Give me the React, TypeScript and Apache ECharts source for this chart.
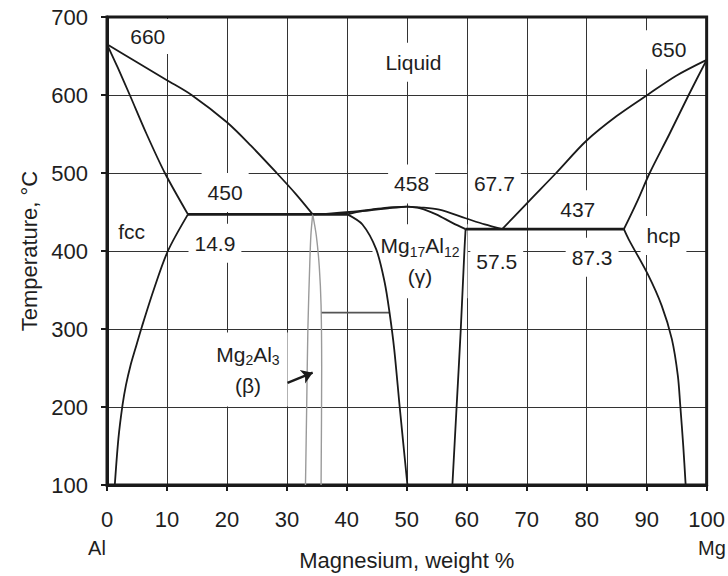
import React, { useEffect, useRef } from "react";
import * as echarts from "echarts";

// ---- data (wt % Mg, temperature °C) ----
const xTickValues = [0, 10, 20, 30, 40, 50, 60, 70, 80, 90, 100];
const yTickValues = [100, 200, 300, 400, 500, 600, 700];

const alLiquidus = [[0, 665], [5, 642], [10, 619], [14.1, 600], [20, 565], [24, 535], [28.3, 500], [31.5, 473], [34.3, 447]];
const alSolidus = [[0, 665], [1.8, 635], [3.8, 600], [6.6, 550], [9.65, 500], [13.5, 447]];
const fccSolvus = [[13.5, 447], [10.15, 400], [7.82, 351], [5.82, 303], [4.74, 275], [3.91, 253], [3.16, 228], [2.58, 202], [1.91, 160], [1.3, 100]];
const eutecticLeft = [[13.5, 447], [40.1, 447]];
const betaLeft = [[34.3, 447], [34.0, 420], [33.8, 380], [33.5, 300], [33.3, 200], [33.1, 100]];
const betaRight = [[34.3, 447], [34.9, 420], [35.4, 380], [35.7, 330], [35.8, 250], [35.7, 100]];
const betaTie = [[35.8, 321], [47.1, 321]];
const gammaLiqLeft = [[34.3, 447], [37, 448], [40.4, 450], [44, 453], [47.1, 456], [50, 457]];
const gammaSolLeft = [[40.1, 447], [42.6, 451], [47.1, 455], [50, 457]];
const gammaLeftBoundary = [[40.1, 447], [42.6, 434], [44.9, 402], [46.3, 360], [47.1, 322], [47.9, 274], [48.8, 201], [50.1, 100]];
const gammaLiqRight = [[50, 457], [52.1, 456], [55.4, 453], [59.8, 442], [63, 434], [65.9, 428]];
const gammaSolRight = [[50, 457], [52.1, 455], [54.9, 447], [57.6, 436], [59.8, 428]];
const gammaRightBoundary = [[59.8, 428], [59.6, 400], [59.0, 300], [58.3, 200], [57.6, 100]];
const eutecticRight = [[59.8, 428], [86.2, 428]];
const mgLiquidus = [[65.9, 428], [70.5, 465], [74.9, 500], [79.9, 541], [85, 573], [90.3, 601], [95, 625], [100, 645]];
const mgSolidus = [[86.2, 428], [88.5, 465], [90.5, 500], [93.8, 550], [97, 600], [100, 645]];
const hcpSolvus = [[86.2, 428], [87, 415], [90.2, 370], [92.5, 330], [94.2, 287], [95.2, 240], [95.6, 202], [96.1, 150], [96.5, 100]];
const betaArrow = [[30.1, 231], [34.3, 244]];

const annotations = [
  { text: "660", at: [6.8, 675] },
  { text: "Liquid", at: [51.1, 642] },
  { text: "650", at: [93.7, 658] },
  { text: "450", at: [19.7, 475] },
  { text: "458", at: [50.8, 486] },
  { text: "67.7", at: [64.6, 486] },
  { text: "437", at: [78.5, 453] },
  { text: "fcc", at: [4.1, 425] },
  { text: "14.9", at: [18.0, 410] },
  { text: "{t|Mg}{s|17}{t|Al}{s|12}\n{t|(γ)}", at: [52.2, 387] },
  { text: "57.5", at: [65.0, 387] },
  { text: "87.3", at: [80.9, 392] },
  { text: "hcp", at: [92.8, 420] },
  { text: "{t|Mg}{s|2}{t|Al}{s|3}\n{t|(β)}", at: [23.5, 248] },
];

const FONT = "'Liberation Sans', Arial, Helvetica, sans-serif";
const INK = "#1a1a1a";
const TEXT = "#1e1e1e";

export default function App() {
  const ref = useRef<HTMLDivElement>(null);

  useEffect(() => {
    if (!ref.current) return;
    const chart = echarts.init(ref.current, null, { renderer: "svg" });

    const curve = (data: number[][], opts: any = {}) => ({
      type: "line",
      data,
      z: 5,
      showSymbol: false,
      symbol: "none",
      smooth: opts.smooth ?? 0.3,
      silent: true,
      lineStyle: { color: opts.color ?? INK, width: opts.width ?? 1.8 },
    });

    const option: any = {
      animation: false,
      backgroundColor: "#ffffff",
      grid: {
        left: 107,
        right: 20,
        top: 17,
        bottom: 90,
        show: true,
        borderColor: INK,
        borderWidth: 3,
        backgroundColor: "transparent",
        z: 3,
      },
      xAxis: {
        type: "value",
        min: 0,
        max: 100,
        interval: 10,
        name: "Magnesium, weight %",
        nameLocation: "middle",
        nameGap: 64,
        nameTextStyle: { fontFamily: FONT, fontSize: 22, color: TEXT },
        axisLine: { show: true, onZero: false, lineStyle: { color: INK, width: 3 } },
        axisTick: { show: true, length: 6, lineStyle: { color: INK, width: 2 } },
        axisLabel: {
          fontFamily: FONT,
          fontSize: 22,
          color: TEXT,
          margin: 23,
          formatter: (v: number) => (xTickValues.includes(v) ? String(v) : ""),
        },
        splitLine: { show: true, lineStyle: { color: "#333", width: 1 } },
      },
      yAxis: {
        type: "value",
        min: 100,
        max: 700,
        interval: 100,
        name: "Temperature, °C",
        nameLocation: "middle",
        nameGap: 65,
        nameRotate: 90,
        nameTextStyle: { fontFamily: FONT, fontSize: 22, color: TEXT },
        axisLine: { show: true, onZero: false, lineStyle: { color: INK, width: 3 } },
        axisTick: { show: true, length: 6, lineStyle: { color: INK, width: 2 } },
        axisLabel: {
          fontFamily: FONT,
          fontSize: 22,
          color: TEXT,
          margin: 19,
          formatter: (v: number) => (yTickValues.includes(v) ? String(v) : ""),
        },
        splitLine: { show: true, lineStyle: { color: "#333", width: 1 } },
      },
      graphic: [
        {
          type: "text",
          style: { text: "Al", x: 97, y: 548, align: "center", verticalAlign: "middle", font: `20px ${FONT}`, fill: TEXT },
        },
        {
          type: "text",
          style: { text: "Mg", x: 712, y: 548, align: "center", verticalAlign: "middle", font: `20px ${FONT}`, fill: TEXT },
        },
      ],
      series: [
        {
          type: "scatter",
          z: 1,
          symbolSize: 0,
          silent: true,
          itemStyle: { opacity: 1 },
          data: annotations.map((a) => ({
            value: a.at,
            label: {
              show: true,
              position: "inside",
              formatter: a.text,
              fontFamily: FONT,
              fontSize: 21,
              color: TEXT,
              opacity: 1,
              backgroundColor: "#ffffff",
              padding: a.text.includes("\n") ? [6, 8] : a.text === "660" ? [2, 6] : [4, 6],
              lineHeight: 31,
              rich: {
                t: { fontFamily: FONT, fontSize: 21, color: TEXT, lineHeight: 31 },
                s: { fontFamily: FONT, fontSize: 14, color: TEXT, padding: [12, 0, 0, 0] },
              },
            },
          })),
        },
        curve(alLiquidus),
        curve(alSolidus),
        curve(fccSolvus),
        curve(eutecticLeft, { smooth: false, width: 2.6 }),
        curve(betaLeft, { color: "#9a9a9a", width: 1.4 }),
        curve(betaRight, { color: "#9a9a9a", width: 1.4 }),
        curve(betaTie, { smooth: false, color: "#555", width: 1.8 }),
        curve(gammaLiqLeft),
        curve(gammaSolLeft),
        curve(gammaLeftBoundary),
        curve(gammaLiqRight),
        curve(gammaSolRight),
        curve(gammaRightBoundary),
        curve(eutecticRight, { smooth: false, width: 2.6 }),
        curve(mgLiquidus),
        curve(mgSolidus),
        curve(hcpSolvus),
        {
          type: "lines",
          coordinateSystem: "cartesian2d",
          z: 6,
          silent: true,
          symbol: ["none", "arrow"],
          symbolSize: [0, 11],
          lineStyle: { color: INK, width: 2.4, opacity: 1 },
          data: [{ coords: betaArrow }],
        },
      ],
    };

    chart.setOption(option);
    return () => chart.dispose();
  }, []);

  return (
    <div
      ref={ref}
      style={{ position: "fixed", left: 0, top: 0, width: 728, height: 576, background: "#fff" }}
    />
  );
}
